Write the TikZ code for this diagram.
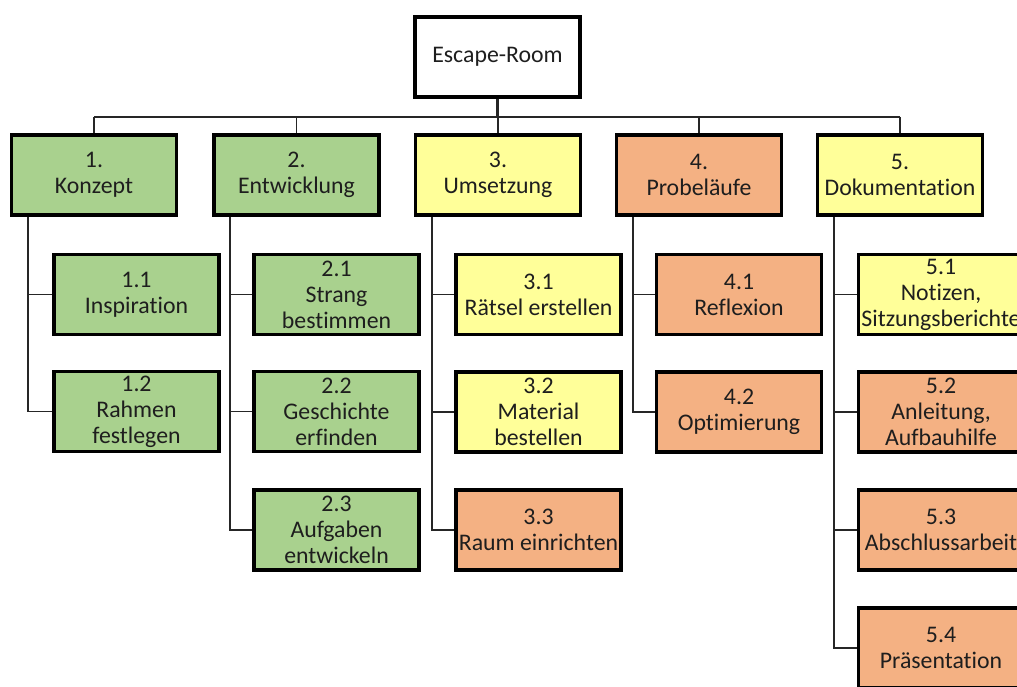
\documentclass[tikz,border=0pt]{standalone}
\usepackage{fontspec}
\setmainfont{Carlito}[Ligatures=NoCommon]
\definecolor{cgreen}{HTML}{A9D18E}
\definecolor{cyellow}{HTML}{FFFF99}
\definecolor{corange}{HTML}{F4B183}
\definecolor{ctext}{HTML}{1E1E1E}
\begin{document}
\begin{tikzpicture}[x=1pt,y=-1pt,
  box/.style={draw=black, line width=3.6pt, minimum width=165pt, minimum height=80pt,
    align=center, inner sep=0pt, text=ctext,
    font=\fontsize{23.8}{26}\selectfont},
  grn/.style={box, fill=cgreen},
  yel/.style={box, fill=cyellow},
  org/.style={box, fill=corange},
  wht/.style={box, fill=white},
  link/.style={draw=black!85, line width=1.8pt},
]
\clip (0,0) rectangle (1017,687);
\fill[white] (0,0) rectangle (1017,687);
\coordinate (bus) at (0,117);

\node[wht] (root) at (497.5,57) {Escape-Room};

\node[grn] (c1) at (94,175) {1.\\Konzept};
\node[grn] (c2) at (296.5,175) {2.\\Entwicklung};
\node[yel] (c3) at (498,175) {3.\\Umsetzung};
\node[org] (c4) at (699,175) {4.\\Probeläufe};
\node[yel] (c5) at (900,175) {5.\\Dokumentation};

% level 2
\node[grn] (c11) at (136.5,294.5) {1.1\\Inspiration};
\node[grn] (c12) at (136.5,411.5) {1.2\\Rahmen\\festlegen};

\node[grn] (c21) at (336.5,294.5) {2.1\\Strang\\bestimmen};
\node[grn] (c22) at (336.5,411.5) {2.2\\Geschichte\\erfinden};
\node[grn] (c23) at (336.5,530) {2.3\\Aufgaben\\entwickeln};

\node[yel] (c31) at (538.5,294.5) {3.1\\Rätsel erstellen};
\node[yel] (c32) at (538.5,412) {3.2\\Material\\bestellen};
\node[org] (c33) at (538.5,530) {3.3\\Raum einrichten};

\node[org] (c41) at (739,294.5) {4.1\\Reflexion};
\node[org] (c42) at (739,412) {4.2\\Optimierung};

\node[yel] (c51) at (941,294.5) {5.1\\Notizen,\\Sitzungsberichte};
\node[org] (c52) at (941,412) {5.2\\Anleitung,\\Aufbauhilfe};
\node[org] (c53) at (941,530) {5.3\\Abschlussarbeit};
\node[org] (c54) at (941,648) {5.4\\Präsentation};

% level 1 connectors
\draw[link, line width=2.6pt] (root.south) -- (root.south |- bus);
\draw[link] (c1.north |- bus) -- (c5.north |- bus);
\foreach \n in {c1,c2,c3,c4,c5} \draw[link] (\n.north |- bus) -- (\n.north);

% level 2 connectors
\draw[link] ([xshift=18pt]c1.south west) |- (c11.west);
\draw[link] ([xshift=18pt]c1.south west) |- (c12.west);
\draw[link] ([xshift=18pt]c2.south west) |- (c21.west);
\draw[link] ([xshift=18pt]c2.south west) |- (c22.west);
\draw[link] ([xshift=18pt]c2.south west) |- (c23.west);
\draw[link] ([xshift=18pt]c3.south west) |- (c31.west);
\draw[link] ([xshift=18pt]c3.south west) |- (c32.west);
\draw[link] ([xshift=18pt]c3.south west) |- (c33.west);
\draw[link] ([xshift=18pt]c4.south west) |- (c41.west);
\draw[link] ([xshift=18pt]c4.south west) |- (c42.west);
\draw[link] ([xshift=18pt]c5.south west) |- (c51.west);
\draw[link] ([xshift=18pt]c5.south west) |- (c52.west);
\draw[link] ([xshift=18pt]c5.south west) |- (c53.west);
\draw[link] ([xshift=18pt]c5.south west) |- (c54.west);
\end{tikzpicture}
\end{document}
